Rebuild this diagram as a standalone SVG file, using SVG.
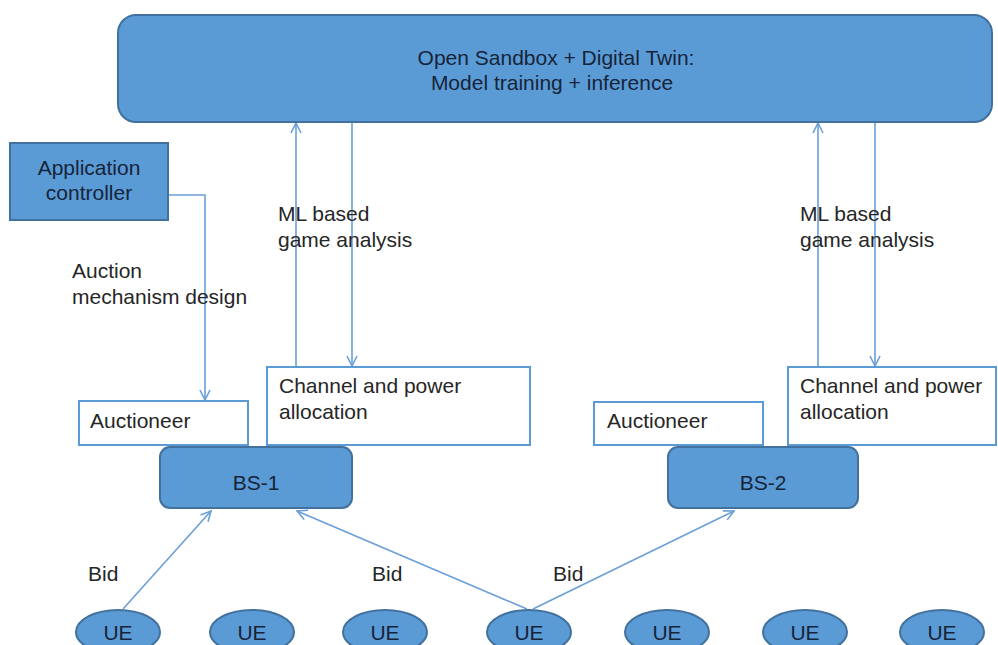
<svg xmlns="http://www.w3.org/2000/svg" width="998" height="645" viewBox="0 0 998 645">
<style>
.blue{fill:#5b9bd5;stroke:#41719c;stroke-width:2}
.white{fill:#ffffff;stroke:#5b9bd5;stroke-width:2}
.t{font-family:"Liberation Sans",Arial,sans-serif;font-size:21px;fill:#262626}
.tb{font-family:"Liberation Sans",Arial,sans-serif;font-size:21px;fill:#16243a}
.c{text-anchor:middle}
.conn{fill:none;stroke:#6a9fd8;stroke-width:1.6}
</style>
<defs>
<marker id="ah" viewBox="0 0 12 12" refX="11" refY="6" markerWidth="12" markerHeight="12" markerUnits="userSpaceOnUse" orient="auto">
<path d="M1,1 L11,6 L1,11" fill="none" stroke="#6a9fd8" stroke-width="1.6"/>
</marker>
</defs>
<rect width="998" height="645" fill="#ffffff"/>
<g id="connectors">
<line class="conn" x1="296" y1="366" x2="296" y2="123" marker-end="url(#ah)"/>
<line class="conn" x1="352" y1="123" x2="352" y2="366" marker-end="url(#ah)"/>
<line class="conn" x1="818" y1="366" x2="818" y2="123" marker-end="url(#ah)"/>
<line class="conn" x1="875" y1="123" x2="875" y2="366" marker-end="url(#ah)"/>
<polyline class="conn" points="169,195 205,195 205,400" marker-end="url(#ah)"/>
<line class="conn" x1="123" y1="609" x2="211" y2="511" marker-end="url(#ah)"/>
<line class="conn" x1="527" y1="609" x2="297" y2="511" marker-end="url(#ah)"/>
<line class="conn" x1="533" y1="609" x2="734" y2="511" marker-end="url(#ah)"/>
</g>
<g id="sandbox">
<rect class="blue" x="118" y="15" width="874" height="107" rx="18" ry="18"/>
<text class="tb c" x="556" y="65">Open Sandbox + Digital Twin:</text>
<text class="tb c" x="552" y="90">Model training + inference</text>
</g>
<g id="app-controller">
<rect class="blue" x="10" y="143" width="158" height="77"/>
<text class="tb c" x="89" y="175">Application</text>
<text class="tb c" x="89" y="200">controller</text>
</g>
<g id="labels">
<text class="t" x="72" y="278">Auction</text>
<text class="t" x="72" y="304">mechanism design</text>
<text class="t" x="278" y="221">ML based</text>
<text class="t" x="278" y="247">game analysis</text>
<text class="t" x="800" y="221">ML based</text>
<text class="t" x="800" y="247">game analysis</text>
<text class="t" x="88" y="581">Bid</text>
<text class="t" x="372" y="581">Bid</text>
<text class="t" x="553" y="581">Bid</text>
</g>
<g id="auctioneer-1">
<rect class="white" x="79" y="401" width="169" height="44"/>
<text class="t" x="90" y="428">Auctioneer</text>
</g>
<g id="channel-1">
<rect class="white" x="267" y="367" width="263" height="78"/>
<text class="t" x="279" y="393">Channel and power</text>
<text class="t" x="279" y="419">allocation</text>
</g>
<g id="bs-1">
<rect class="blue" x="160" y="447" width="192" height="61" rx="10" ry="10"/>
<text class="tb c" x="256" y="490">BS-1</text>
</g>
<g id="auctioneer-2">
<rect class="white" x="594" y="402" width="169" height="43"/>
<text class="t" x="607" y="428">Auctioneer</text>
</g>
<g id="channel-2">
<rect class="white" x="788" y="367" width="208" height="78"/>
<text class="t" x="800" y="393">Channel and power</text>
<text class="t" x="800" y="419">allocation</text>
</g>
<g id="bs-2">
<rect class="blue" x="668" y="447" width="190" height="61" rx="10" ry="10"/>
<text class="tb c" x="763" y="490">BS-2</text>
</g>
<g id="ue-1"><ellipse class="blue" cx="118" cy="632" rx="42" ry="22"/><text class="tb c" x="118" y="640">UE</text></g>
<g id="ue-2"><ellipse class="blue" cx="252" cy="632" rx="42" ry="22"/><text class="tb c" x="252" y="640">UE</text></g>
<g id="ue-3"><ellipse class="blue" cx="385" cy="632" rx="42" ry="22"/><text class="tb c" x="385" y="640">UE</text></g>
<g id="ue-4"><ellipse class="blue" cx="529" cy="632" rx="42" ry="22"/><text class="tb c" x="529" y="640">UE</text></g>
<g id="ue-5"><ellipse class="blue" cx="667" cy="632" rx="42" ry="22"/><text class="tb c" x="667" y="640">UE</text></g>
<g id="ue-6"><ellipse class="blue" cx="805" cy="632" rx="42" ry="22"/><text class="tb c" x="805" y="640">UE</text></g>
<g id="ue-7"><ellipse class="blue" cx="942" cy="632" rx="42" ry="22"/><text class="tb c" x="942" y="640">UE</text></g>
</svg>
